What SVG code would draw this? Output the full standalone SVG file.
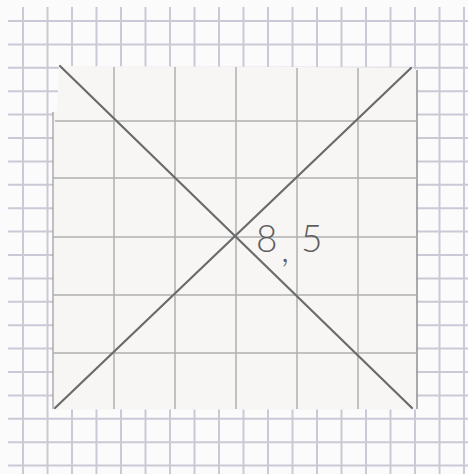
<svg xmlns="http://www.w3.org/2000/svg" width="468" height="474" viewBox="0 0 468 474">
<style>
.bg{stroke:#cbc9d6;stroke-width:2;fill:none}
.pg{stroke:#b0b0b0;stroke-width:1.5;fill:none}
.diag{stroke:#6b6b6b;stroke-width:2.2;stroke-linecap:round;fill:none}
.lbl{font-family:"Lato","Liberation Sans","DejaVu Sans",sans-serif;font-weight:300;font-size:37px;fill:#5e5e5e}
</style>
<rect x="0" y="0" width="468" height="474" fill="#fbfbfc"/>
<g id="graph-paper">
<path class="bg" d="M23,7V474M47.5,7V474M72,7V474M96.5,7V474M121,7V474M145.5,7V474M170,7V474M194.5,7V474M219,7V474M243.5,7V474M268,7V474M292.5,7V474M317,7V474M341.5,7V474M366,7V474M390.5,7V474M415,7V474M439.5,7V474M464,7V474"/>
<path class="bg" d="M8,21H468M8,44.4H468M8,67.8H468M8,91.2H468M8,114.6H468M8,138H468M8,161.4H468M8,184.8H468M8,208.2H468M8,231.6H468M8,255H468M8,278.4H468M8,301.8H468M8,325.2H468M8,348.6H468M8,372H468M8,395.4H468M8,418.8H468M8,442.2H468M8,465.6H468"/>
</g>
<g id="square">
<path d="M59,66 L412,67.5 L417,70 L416.5,409.5 L53,409.5 L53,112 L57,111 Z" fill="#f7f6f4"/>
<path d="M53,112 V409" stroke="#9a9a9a" stroke-width="1.2" fill="none"/>
<path d="M417,70 V409" stroke="#8f8f8f" stroke-width="1.5" fill="none"/>
<path class="pg" d="M114,67V409M175,67V409M236,67V409M297,68V409M358,68V409"/>
<path class="pg" d="M55,121H417M53,178H417M53,237H417M53,295H417M53,353H417"/>
</g>
<g id="diagonals">
<line class="diag" x1="60" y1="66" x2="412" y2="408"/>
<line class="diag" x1="411" y1="68" x2="55" y2="408"/>
</g>
<g id="label">
<text class="lbl" x="256" y="252">8</text>
<text class="lbl" x="281" y="262" font-size="30px">,</text>
<text class="lbl" x="301" y="252">5</text>
</g>
</svg>
